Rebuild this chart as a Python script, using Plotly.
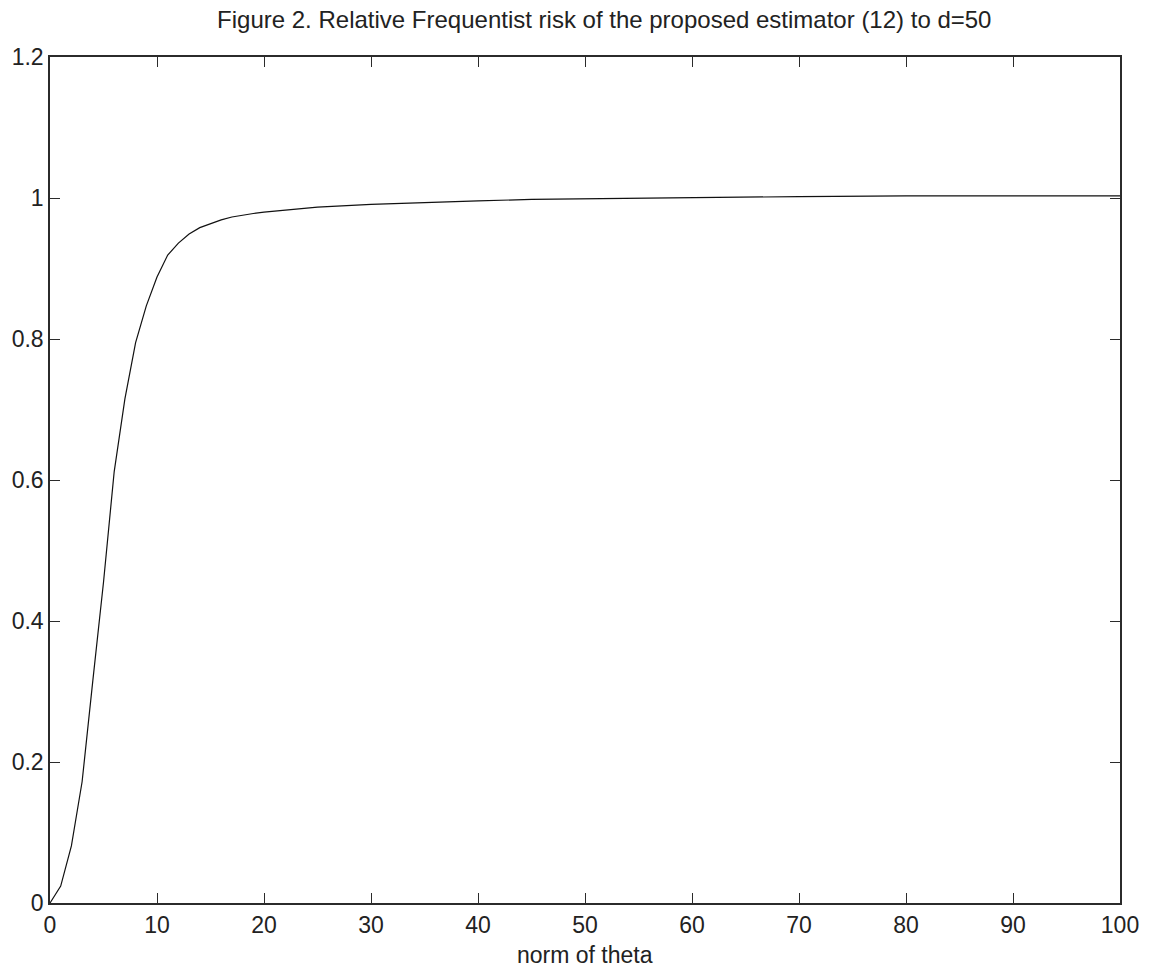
import plotly.graph_objects as go

theta_norm = [0, 1, 2, 3, 4, 5, 6, 7, 8, 9, 10, 11, 12, 13, 14, 15, 16, 17, 18, 19, 20,
              25, 30, 35, 40, 45, 50, 60, 70, 80, 90, 100]
rel_risk = [0.0, 0.024, 0.081, 0.172, 0.315, 0.455, 0.612, 0.715, 0.795, 0.847, 0.888,
            0.919, 0.936, 0.949, 0.958, 0.964, 0.969, 0.973, 0.976, 0.978, 0.980,
            0.987, 0.991, 0.994, 0.996, 0.998, 0.999, 1.001, 1.002, 1.003, 1.003, 1.003]

x_ticks = [0, 10, 20, 30, 40, 50, 60, 70, 80, 90, 100]
y_ticks = [0, 0.2, 0.4, 0.6, 0.8, 1, 1.2]
y_tick_text = ["0", "0.2", "0.4", "0.6", "0.8", "1", "1.2"]

title_text = "Figure 2. Relative Frequentist risk of the proposed estimator (12) to d=50"
x_label = "norm of theta"

FONT = "Liberation Sans, Arial, Helvetica, sans-serif"
AXIS_COLOR = "#2b2b2b"

fig = go.Figure()
fig.add_trace(go.Scatter(x=theta_norm, y=rel_risk, mode="lines",
                         line=dict(color="#111111", width=1.2),
                         showlegend=False, hoverinfo="skip"))

axis_common = dict(showline=True, linecolor=AXIS_COLOR, linewidth=1.5,
                   mirror="ticks", ticks="inside", ticklen=10, tickwidth=1,
                   tickcolor=AXIS_COLOR, showgrid=False, zeroline=False,
                   tickfont=dict(family=FONT, size=23, color="#222222"))

fig.update_xaxes(range=[0, 100], tickvals=x_ticks, ticklabelstandoff=1, **axis_common)
fig.update_yaxes(range=[0, 1.2], tickvals=y_ticks, ticktext=y_tick_text, **axis_common)

fig.add_annotation(text=x_label, xref="paper", yref="paper", x=0.5, y=-0.061,
                   xanchor="center", yanchor="middle", showarrow=False,
                   font=dict(family=FONT, size=23, color="#222222"))

fig.update_layout(
    width=1151, height=969,
    margin=dict(l=50, r=28, t=57, b=66, pad=0),
    paper_bgcolor="white", plot_bgcolor="white",
    title=dict(text=title_text, x=0.525, xanchor="center",
               y=1 - 20 / 969, yanchor="middle", yref="container",
               font=dict(family=FONT, size=24, color="#222222")),
)

fig.write_html("out.html")
